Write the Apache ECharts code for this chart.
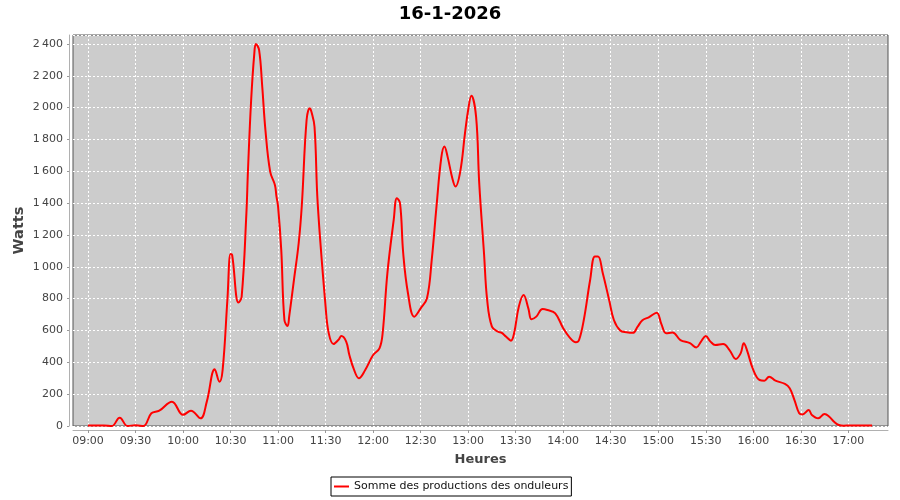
<!DOCTYPE html>
<html>
<head>
<meta charset="utf-8">
<script src="https://cdn.jsdelivr.net/npm/echarts@6/dist/echarts.min.js"></script>
<style>
  html, body { margin: 0; padding: 0; background: #fff; }
  #chart { width: 900px; height: 500px; }
</style>
</head>
<body>
<div id="chart"></div>
<script>
const chartTitle = '16-1-2026';
const seriesName = 'Somme des productions des onduleurs';
const yAxisName = 'Watts';
const xAxisName = 'Heures';
const tickTimes = ['09:00','09:30','10:00','10:30','11:00','11:30','12:00','12:30','13:00','13:30','14:00','14:30','15:00','15:30','16:00','16:30','17:00'];

const times = [
  '09:00','09:05','09:10','09:15','09:20','09:25','09:30','09:35','09:40','09:45',
  '09:53','10:00','10:05','10:11','10:15','10:20','10:23','10:25','10:28','10:30',
  '10:31','10:35','10:37','10:40','10:41','10:43','10:45','10:46','10:48','10:50',
  '10:52','10:55','10:58','10:59','11:00','11:02','11:04','11:06','11:07','11:10',
  '11:13','11:15','11:18','11:20','11:21','11:23','11:25','11:30','11:32','11:35',
  '11:38','11:40','11:43','11:45','11:48','11:51','11:55','12:00','12:04','12:06',
  '12:09','12:13','12:15','12:17','12:19','12:22','12:26','12:30','12:34','12:37',
  '12:40','12:43','12:45','12:47','12:50','12:52','12:55','12:58','13:00','13:02',
  '13:05','13:07','13:10','13:12','13:15','13:19','13:21','13:24','13:27','13:29',
  '13:32','13:35','13:38','13:40','13:43','13:47','13:50','13:55','14:00','14:04',
  '14:08','14:10','14:13','14:17','14:20','14:22','14:25','14:29','14:32','14:36',
  '14:40','14:44','14:47','14:50','14:54','14:59','15:02','15:05','15:09','15:14',
  '15:20','15:24','15:27','15:30','15:33','15:36','15:41','15:45','15:49','15:52',
  '15:54','15:56','16:00','16:04','16:07','16:10','16:14','16:20','16:23','16:26',
  '16:29','16:31','16:35','16:37','16:41','16:45','16:48','16:51','16:54','16:57',
  '17:01','17:07','17:15'
];
const watts = [
  3,3,3,0,52,0,5,0,80,96,
  153,70,96,48,153,356,278,352,792,1080,
  1074,775,812,1337,1608,2048,2341,2400,2362,2132,
  1860,1598,1514,1441,1378,1106,666,628,687,917,
  1148,1388,1922,1996,1975,1880,1400,750,582,515,
  540,565,530,446,352,300,352,446,488,582,
  959,1294,1430,1399,1085,834,687,739,802,1043,
  1378,1682,1755,1692,1556,1504,1598,1839,1985,2075,
  1943,1524,1085,792,624,592,586,561,536,582,
  750,823,739,670,687,735,729,708,614,557,
  526,540,666,917,1064,1064,959,792,666,600,
  589,585,624,664,683,712,640,582,588,540,
  520,493,530,565,530,509,515,477,421,456,
  519,477,352,289,285,310,285,264,237,163,
  80,73,100,69,48,75,58,27,6,2,
  3,3,3
];

// minutes since midnight
function toMin(hm) { const p = hm.split(':'); return (+p[0]) * 60 + (+p[1]); }
function pad(n) { return (n < 10 ? '0' : '') + n; }
function fmtMin(v) { v = Math.round(v); return pad(Math.floor(v / 60)) + ':' + pad(v % 60); }

const data = times.map((t, i) => [toMin(t), watts[i]]);
const tickValues = tickTimes.map(toMin);

const chart = echarts.init(document.getElementById('chart'), null, { renderer: 'canvas' });
const font = 'DejaVu Sans';
chart.setOption({
  animation: false,
  backgroundColor: '#ffffff',
  title: {
    text: chartTitle,
    left: 'center',
    top: 0,
    textStyle: { fontFamily: font, fontSize: 18, fontWeight: 'bold', color: '#000' }
  },
  grid: {
    left: 73, right: 12, top: 35, bottom: 74,
    show: true,
    backgroundColor: '#cccccc',
    borderColor: '#555555',
    borderWidth: 1
  },
  legend: {
    left: 331, top: 477,
    padding: [4, 3, 4, 3],
    borderColor: '#000', borderWidth: 1,
    itemWidth: 15, itemHeight: 2,
    icon: 'rect',
    textStyle: { fontFamily: font, fontSize: 11, color: '#111' },
    data: [seriesName]
  },
  xAxis: {
    type: 'value',
    min: 530.53,
    max: 1045.05,
    offset: 4,
    name: xAxisName,
    nameLocation: 'middle',
    nameGap: 23,
    nameMoveOverlap: false,
    nameTextStyle: { fontFamily: font, fontSize: 13, fontWeight: 'bold', color: '#444' },
    axisLine: { show: true, onZero: false, lineStyle: { color: '#b0b0b0', width: 1 } },
    axisTick: { show: true, length: 3, lineStyle: { color: '#999' }, customValues: tickValues },
    axisLabel: {
      fontFamily: font, fontSize: 11, color: '#444', margin: 6,
      customValues: tickValues,
      formatter: fmtMin
    },
    splitLine: { show: true, lineStyle: { color: '#ffffff', type: [2, 2], width: 1 } }
  },
  yAxis: {
    type: 'value',
    min: 0, max: 2456, interval: 200,
    offset: 4,
    name: yAxisName,
    nameLocation: 'middle',
    nameGap: 42,
    nameMoveOverlap: false,
    nameRotate: 90,
    nameTextStyle: { fontFamily: font, fontSize: 14.5, fontWeight: 'bold', color: '#444' },
    axisLine: { show: true, lineStyle: { color: '#b0b0b0', width: 1 } },
    axisTick: { show: true, length: 2, lineStyle: { color: '#999' } },
    axisLabel: {
      fontFamily: font, fontSize: 11, color: '#444', margin: 6,
      showMaxLabel: false,
      formatter: function (v) { return v >= 1000 ? Math.floor(v / 1000) + '\u2009' + String(v % 1000).padStart(3, '0') : String(v); }
    },
    splitLine: { show: true, lineStyle: { color: '#ffffff', type: [2, 2], width: 1 } }
  },
  series: [{
    name: seriesName,
    type: 'line',
    data: data,
    smooth: 0.4,
    showSymbol: false,
    symbol: 'none',
    lineStyle: { color: '#ff0000', width: 2 },
    itemStyle: { color: '#ff0000' }
  }]
});
</script>
</body>
</html>
